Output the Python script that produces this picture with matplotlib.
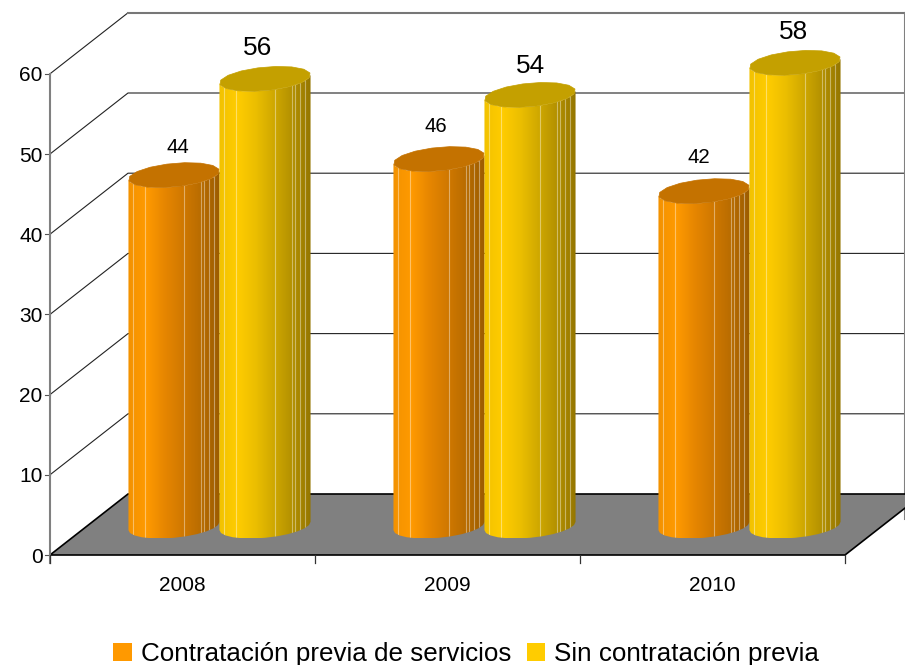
import numpy as np
import matplotlib
matplotlib.use('Agg')
import matplotlib.pyplot as plt
from matplotlib.colors import LinearSegmentedColormap
from matplotlib.patches import Patch, Polygon

plt.rcParams['font.family'] = ['Liberation Sans', 'DejaVu Sans']

years = ['2008', '2009', '2010']
contratacion = [44, 46, 42]
sin_contratacion = [56, 54, 58]
y_ticks = [0, 10, 20, 30, 40, 50, 60]
legend_names = ['Contratación previa de servicios', 'Sin contratación previa']

# px per unit on the chart
CAT_PX = 265.0
VAL_PX = 8.02
W, H = 905, 665
X0, Y0 = 50, 555

fig = plt.figure(figsize=(W / 100, H / 100), dpi=100)
ax = fig.add_axes([0, 0, 1, 1])
ax.axis('off')
xlim = (-X0 / CAT_PX, (W - X0) / CAT_PX)
ylim = ((Y0 - H) / VAL_PX, Y0 / VAL_PX)

# oblique depth of the 3d box, in data units
depth_x = 78 / CAT_PX
depth_y = 61 / VAL_PX
base_x = 37 / CAT_PX
base_y = 29 / VAL_PX
top_drop = 2 / VAL_PX

# back wall and side lines
for v in y_ticks[1:-1]:
    ax.plot([0, depth_x, 4], [v, v + depth_y, v + depth_y], color='#222222', lw=0.8, zorder=1)
    ax.plot([-0.02, 0], [v, v], color='#555555', lw=0.8, zorder=1)
ax.plot([0, depth_x], [60, 60 + depth_y], color='#222222', lw=0.8, zorder=1)
ax.plot([depth_x, 4], [60 + depth_y] * 2, color='#777777', lw=1.5, zorder=1)
ax.plot([-0.02, 0], [60, 60], color='#555555', lw=0.8, zorder=1)
ax.plot([-0.02, 0], [0, 0], color='#555555', lw=0.8, zorder=1)
ax.plot([3.225, 3.225], [4.5, 60 + depth_y], color='#808080', lw=1.5, zorder=1)

# floor
floor = Polygon([(0, 0), (3, 0), (3 + depth_x, depth_y), (depth_x, depth_y)],
                closed=True, facecolor='#808080', edgecolor='black', lw=1.2, zorder=2)
ax.add_patch(floor)
ax.plot([0, 0], [-1, 60], color='#808080', lw=1.5, zorder=3)
for i in range(4):
    ax.plot([i, i], [-1, 0], color='#333333', lw=0.9, zorder=3)

orange_cmap = LinearSegmentedColormap.from_list('o', ['#F39200', '#FF9A00', '#E68600', '#D07800', '#B86C00', '#9C5C00'])
yellow_cmap = LinearSegmentedColormap.from_list('y', ['#F2C200', '#FFCC00', '#EBBE00', '#CFA800', '#B39000', '#957600'])
facet_pos = [0.05, 0.186, 0.607, 0.796, 0.83, 0.88, 0.94]


def ellipse(cx, cy, t):
    a, b, c = 43 / CAT_PX, 15 / CAT_PX, 12.5 / VAL_PX
    return cx + a * np.cos(t) + b * np.sin(t), cy + c * np.sin(t)


def cylinder(cx, value, cmap, top_col, zo):
    phi = np.arctan2(15, 43)
    t_arc = np.linspace(np.pi + phi, 2 * np.pi + phi, 13)
    bx, by = ellipse(cx, base_y, t_arc)
    tx, ty = ellipse(cx, value + base_y - top_drop, t_arc)
    body = np.column_stack([np.r_[bx, tx[::-1]], np.r_[by, ty[::-1]]])
    patch = Polygon(body, closed=True, facecolor='none', edgecolor='none', zorder=zo)
    ax.add_patch(patch)
    grad = np.linspace(0, 1, 200).reshape(1, -1)
    left, right = bx.min(), bx.max()
    im = ax.imshow(grad, cmap=cmap, extent=[left, right, by.min(), ty.max()],
                   aspect='auto', zorder=zo, interpolation='bilinear')
    im.set_clip_path(patch)
    for f in facet_pos:
        xf = left + f * (right - left)
        ln, = ax.plot([xf, xf], [by.min(), ty.max()], color='white', alpha=0.4, lw=0.8, zorder=zo + 0.1)
        ln.set_clip_path(patch)
    t_all = np.linspace(0, 2 * np.pi, 17)[:-1] + 0.1
    ex, ey = ellipse(cx, value + base_y - top_drop, t_all)
    ax.fill(ex, ey, color=top_col, lw=0.5, zorder=zo + 0.2)


for i in range(len(years)):
    center = i + 0.5 + base_x
    cylinder(center - 45.5 / CAT_PX, contratacion[i], orange_cmap, '#C47200', 4 + i)
    cylinder(center + 45.5 / CAT_PX, sin_contratacion[i], yellow_cmap, '#C4A000', 4.5 + i)

# value labels, nudged in pixels where the original had them
small_nudge = [(4, 26), (-3, 31), (-5, 32)]
big_nudge = [(-7, 29), (0, 27), (-2, 29)]
for i in range(len(years)):
    center = i + 0.5 + base_x
    ax.annotate(str(contratacion[i]), (center - 45.5 / CAT_PX, contratacion[i] + base_y),
                xytext=small_nudge[i], textcoords='offset pixels', ha='center', va='center',
                fontsize=14.7, color='black', zorder=20)
    ax.annotate(str(sin_contratacion[i]), (center + 45.5 / CAT_PX, sin_contratacion[i] + base_y),
                xytext=big_nudge[i], textcoords='offset pixels', ha='center', va='center',
                fontsize=18.8, color='black', zorder=20)
    ax.text(i + 0.5, -3.75, years[i], ha='center', va='center', fontsize=15, color='black')

for v in y_ticks:
    ax.text(-0.028, v - 0.25, str(v), ha='right', va='center', fontsize=15, color='black')

handles = [Patch(facecolor='#FF9900', label=legend_names[0]), Patch(facecolor='#FFCC00', label=legend_names[1])]
ax.legend(handles=handles, ncol=2, loc='center', bbox_to_anchor=(466 / W, 1 - 654 / H),
          frameon=False, fontsize=18.7, handlelength=0.72, handleheight=0.72,
          handletextpad=0.33, columnspacing=0.6, borderpad=0, borderaxespad=0)

ax.set_xlim(xlim)
ax.set_ylim(ylim)
fig.savefig('out.png', dpi=100, facecolor='white')
